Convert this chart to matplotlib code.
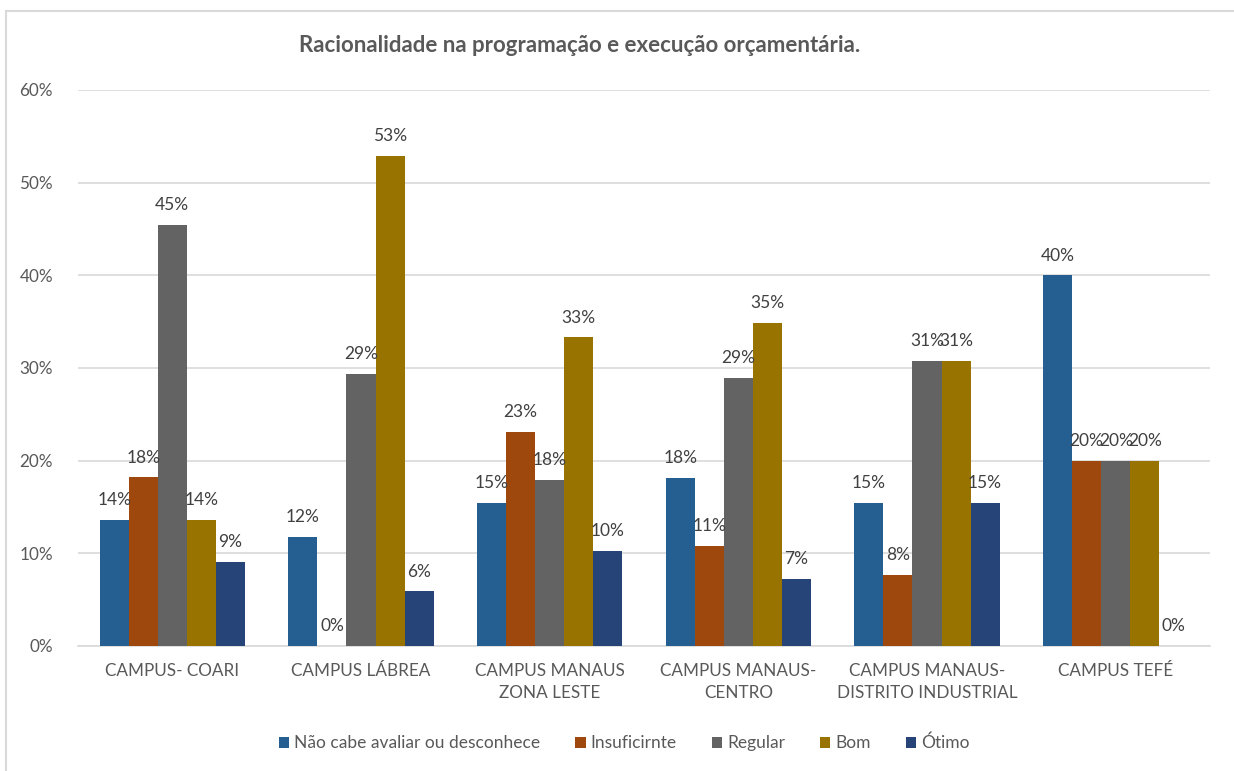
import numpy as np
import matplotlib.pyplot as plt
from matplotlib.lines import Line2D

categories = ["CAMPUS- COARI", "CAMPUS LÁBREA", "CAMPUS MANAUS\nZONA LESTE",
              "CAMPUS MANAUS-\nCENTRO", "CAMPUS MANAUS-\nDISTRITO INDUSTRIAL", "CAMPUS TEFÉ"]
series = ["Não cabe avaliar ou desconhece", "Insuficirnte", "Regular", "Bom", "Ótimo"]

nao_cabe = [13.6, 11.8, 15.4, 18.1, 15.4, 40.0]
insuficiente = [18.2, 0.0, 23.1, 10.8, 7.7, 20.0]
regular = [45.4, 29.4, 17.9, 28.9, 30.8, 20.0]
bom = [13.6, 52.9, 33.3, 34.9, 30.8, 20.0]
otimo = [9.1, 5.9, 10.3, 7.2, 15.4, 0.0]

colors = ["#255E91", "#9E480E", "#636363", "#997300", "#264478"]
txt = "#595959"

plt.rcParams['font.family'] = ['Lato', 'DejaVu Sans']

fig = plt.figure(figsize=(12.34, 7.71), dpi=100)
ax = fig.add_axes([78 / 1234, 1 - 646 / 771, 1132 / 1234, 556 / 771])

x = np.arange(len(categories))
w = 0.154
data = [nao_cabe, insuficiente, regular, bom, otimo]
for i, vals in enumerate(data):
    pos = x + (i - 2) * w
    ax.bar(pos, vals, w, color=colors[i], label=series[i], zorder=3)
    for p, v in zip(pos, vals):
        ax.annotate("%d%%" % round(v), (p, v), xytext=(0, 8.5), textcoords="offset points",
                    ha="center", va="bottom", fontsize=12.5, color="#404040", zorder=4)

ax.set_xlim(-0.5, len(categories) - 0.5)
ax.set_ylim(0, 60)
ax.set_yticks(np.arange(0, 61, 10))
ax.set_yticklabels(["%d%%" % t for t in range(0, 61, 10)])
ax.yaxis.grid(True, color="#D9D9D9", linewidth=1.2, zorder=0)
ax.set_xticks(x)
ax.set_xticklabels(categories, linespacing=1.45)
ax.tick_params(axis="both", length=0, labelsize=12.3, labelcolor=txt)
ax.tick_params(axis="y", pad=18)
ax.tick_params(axis="x", pad=12)
for s in ["top", "right", "left"]:
    ax.spines[s].set_visible(False)
ax.spines["bottom"].set_color("#D9D9D9")
ax.spines["bottom"].set_linewidth(1.2)

fig.text(0.470, 1 - 45 / 771, "Racionalidade na programação e execução orçamentária.",
         ha="center", va="center", fontsize=16, fontweight="bold", color=txt)

fig.legend(loc="center", bbox_to_anchor=(0.506, 1 - 743 / 771), ncol=5, frameon=False,
           fontsize=12.5, labelcolor=txt, handlelength=0.6, handleheight=0.6,
           handletextpad=0.3, columnspacing=2.0)

# chart border
fig.add_artist(Line2D([6 / 1234, 6 / 1234], [0, 1 - 11 / 771], color="#D9D9D9", lw=1.5))
fig.add_artist(Line2D([6 / 1234, 1], [1 - 11 / 771, 1 - 11 / 771], color="#D9D9D9", lw=1.5))

fig.savefig("out.png", dpi=100)
